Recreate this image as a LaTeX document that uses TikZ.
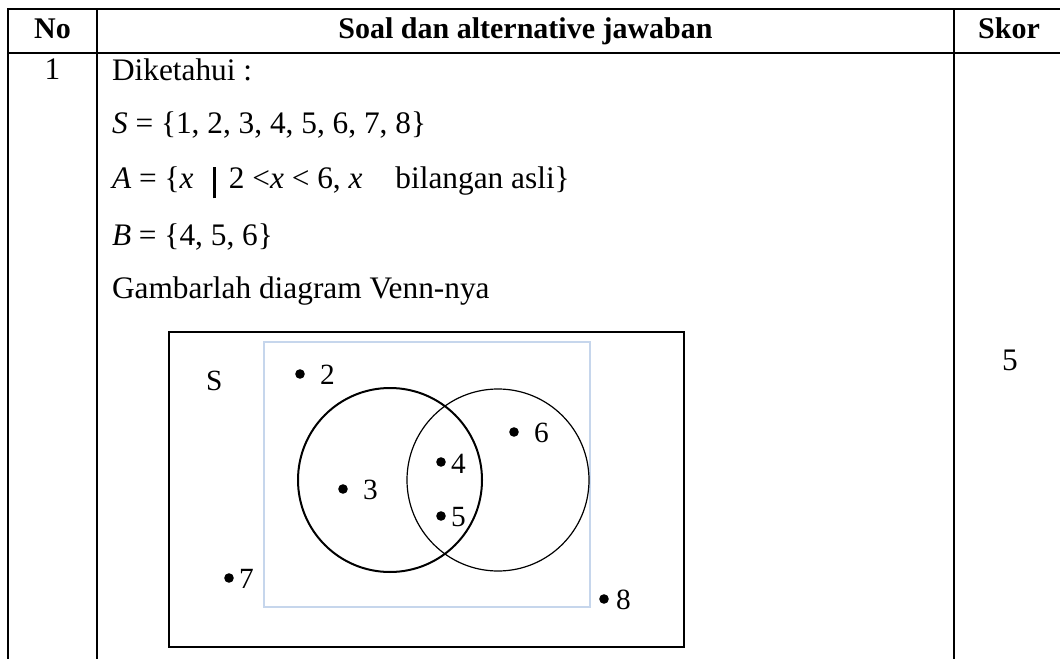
\documentclass[tikz,border=0pt]{standalone}
\usepackage{fontspec}
\setmainfont{Liberation Serif}
\begin{document}
\begin{tikzpicture}[x=0.75pt,y=-0.75pt,
  every node/.style={inner sep=0pt, outer sep=0pt},
  txt/.style={font=\fontsize{23.5}{28}\selectfont},
  hdr/.style={font=\fontsize{22.5}{27}\selectfont\bfseries, anchor=base},
  vlab/.style={font=\fontsize{22}{26}\selectfont, anchor=base west},
  tbl/.style={line width=2.2pt},
  vbox/.style={line width=1.5pt},
  inner/.style={draw={rgb,255:red,198;green,214;blue,236}, line width=1.1pt},
  setA/.style={circle, draw, line width=1.5pt, minimum size=184*0.75pt},
  setB/.style={circle, draw, line width=0.9pt, minimum size=182*0.75pt},
  dot/.style={circle, fill, minimum size=7.2pt}
]
\useasboundingbox (0,0) rectangle (1060,659);
% table
\draw[tbl] (8,659) -- (8,9) -- (1062,9);
\draw[tbl] (8,53) -- (1062,53);
\draw[tbl] (97,9) -- (97,659);
\draw[tbl] (954,9) -- (954,659);
\node[hdr] (hno) at (52.5,38.5) {No};
\node[hdr] (hsoal) at (525.5,38.5) {Soal dan alternative jawaban};
\node[hdr] (hskor) at (1009,38.5) {Skor};
\node[txt, anchor=base] (no1) at (52.5,80) {1};
\node[txt, anchor=base west] (dik) at (112,81) {Diketahui :};
\node[txt, anchor=base west] (sS) at (112,134) {\textit{S} = \{1, 2, 3, 4, 5, 6, 7, 8\}};
\node[txt, anchor=base west] (sA) at (112,189) {\textit{A} = \{\textit{x}\hspace{0.62em}\rule[-0.3em]{0.09em}{1.0em}\hspace{0.42em}2 <\textit{x} < 6, \textit{x}\hspace{1.05em}bilangan asli\}};
\node[txt, anchor=base west] (sB) at (112,246) {\textit{B} = \{4, 5, 6\}};
\node[txt, anchor=base west] (gam) at (112,299) {Gambarlah diagram Venn-nya};
\node[txt, anchor=base] (skor1) at (1010,370) {5};
% venn
\draw[vbox] (169,332) rectangle (684,647);
\draw[inner] (264,342) rectangle (590,607);
\node[setA] (A) at (390,480) {};
\node[setB] (B) at (498,480) {};
\node[vlab] (lS) at (206,390) {S};
\node[dot] (d2) at (300,374) {};
\node[vlab] (l2) at (320,384) {2};
\node[dot] (d3) at (343,489) {};
\node[vlab] (l3) at (363,499) {3};
\node[dot] (d4) at (441,462) {};
\node[vlab] (l4) at (451,473) {4};
\node[dot] (d5) at (441,516) {};
\node[vlab] (l5) at (451,526) {5};
\node[dot] (d6) at (514,432) {};
\node[vlab] (l6) at (534,442) {6};
\node[dot] (d7) at (229,578) {};
\node[vlab] (l7) at (239,588) {7};
\node[dot] (d8) at (604,599) {};
\node[vlab] (l8) at (616,609) {8};
\end{tikzpicture}
\end{document}
